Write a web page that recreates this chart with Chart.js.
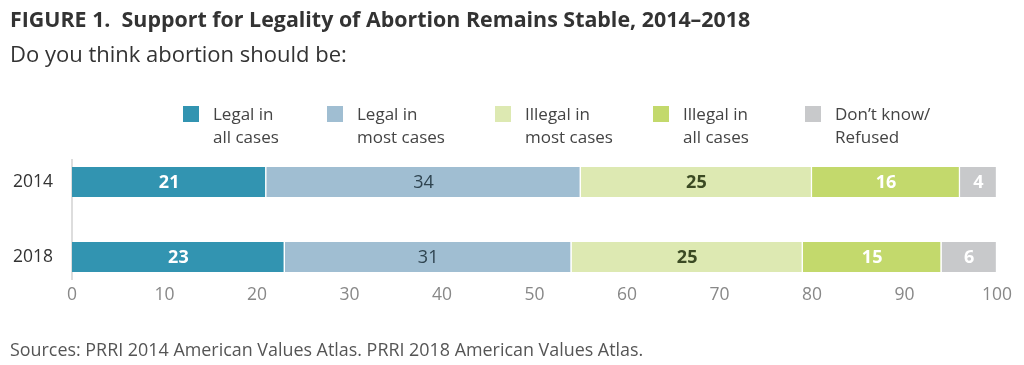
<!DOCTYPE html>
<html lang="en">
<head>
<meta charset="UTF-8">
<title>Support for Legality of Abortion Remains Stable, 2014–2018</title>
<script src="https://cdn.jsdelivr.net/npm/chart.js"></script>
<style>
  html, body { margin: 0; padding: 0; background: #fff; }
  body { width: 1024px; height: 365px; position: relative; overflow: hidden; font-family: "Open Sans", sans-serif; }
  #chartBox { position: absolute; left: 0; top: 0; width: 1024px; height: 365px; }
  .title { position: absolute; left: 10px; top: 4px; font-size: 21.4px; font-weight: bold; color: #333; white-space: pre; }
  .subtitle { position: absolute; left: 10px; top: 38px; font-size: 22px; color: #333; }
  .legend-item { position: absolute; top: 102px; font-size: 17px; line-height: 23px; color: #444; }
  .legend-item .sw { position: absolute; left: 0; top: 4px; width: 16px; height: 16px; }
  .legend-item .txt { position: absolute; left: 30px; top: 0; white-space: nowrap; }
  .source { position: absolute; left: 10px; top: 337px; font-size: 17.9px; color: #555; white-space: nowrap; }
</style>
</head>
<body>
<div id="chartBox"><canvas id="abortionChart"></canvas></div>
<div class="title">FIGURE 1.  Support for Legality of Abortion Remains Stable, 2014–2018</div>
<div class="subtitle">Do you think abortion should be:</div>
<div id="legend"></div>
<div class="source">Sources: PRRI 2014 American Values Atlas. PRRI 2018 American Values Atlas.</div>

<script>
// data
const years = ["2014", "2018"];
const seriesNames = [
    ["Legal in", "all cases"],
    ["Legal in", "most cases"],
    ["Illegal in", "most cases"],
    ["Illegal in", "all cases"],
    ["Don’t know/", "Refused"]
];
const legalAll = [21, 23];
const legalMost = [34, 31];
const illegalMost = [25, 25];
const illegalAll = [16, 15];
const dontKnow = [4, 6];
const xTicks = [0, 10, 20, 30, 40, 50, 60, 70, 80, 90, 100];

const colors = ["#3294b1", "#a0bed2", "#dde9b2", "#c3d96c", "#c8c9cb"];
const labelColors = ["#ffffff", "#2f4450", "#3b4a23", "#ffffff", "#ffffff"];
const labelWeights = ["bold", "normal", "bold", "bold", "bold"];
const legendX = [183, 327, 495, 653, 805];

// html legend (two-line labels)
const legend = document.getElementById("legend");
seriesNames.forEach((name, i) => {
    const item = document.createElement("div");
    item.className = "legend-item";
    item.style.left = legendX[i] + "px";
    item.innerHTML = '<div class="sw" style="background:' + colors[i] + '"></div>' +
        '<div class="txt">' + name.join("<br>") + '</div>';
    legend.appendChild(item);
});

// value labels in the middle of each segment
const valueLabels = {
    id: "valueLabels",
    afterDatasetsDraw(chart) {
        const ctx = chart.ctx;
        ctx.save();
        ctx.textAlign = "center";
        ctx.textBaseline = "middle";
        chart.data.datasets.forEach((ds, i) => {
            const meta = chart.getDatasetMeta(i);
            ctx.fillStyle = labelColors[i];
            ctx.font = labelWeights[i] + " 18px 'Open Sans'";
            meta.data.forEach((bar, j) => {
                ctx.fillText(ds.data[j], (bar.x + bar.base) / 2, bar.y + 1);
            });
        });
        ctx.restore();
    }
};

const allSeries = [legalAll, legalMost, illegalMost, illegalAll, dontKnow];
const yearNums = years.map(Number);

new Chart(document.getElementById("abortionChart"), {
    type: "bar",
    data: {
        labels: years,
        datasets: allSeries.map((vals, i) => ({
            label: seriesNames[i].join(" "),
            data: vals,
            backgroundColor: colors[i],
            borderColor: "#ffffff",
            borderWidth: { left: 0, right: 1.5, top: 0, bottom: 0 },
            borderSkipped: false,
            barThickness: 30
        }))
    },
    options: {
        indexAxis: "y",
        responsive: true,
        maintainAspectRatio: false,
        animation: false,
        layout: { padding: { top: 159.5, right: 27, left: 0, bottom: 0 } },
        plugins: {
            legend: { display: false },
            tooltip: { enabled: false }
        },
        scales: {
            x: {
                stacked: true,
                min: 0,
                max: 100,
                afterBuildTicks(scale) {
                    scale.ticks = xTicks.map(v => ({ value: v }));
                },
                afterFit(scale) { scale.height = 85.5; },
                grid: { display: false, drawTicks: false },
                border: { display: false },
                ticks: {
                    padding: 5,
                    color: "#888888",
                    font: { family: "Open Sans", size: 17.5 },
                    maxRotation: 0
                }
            },
            y: {
                // years on a numeric axis so the space above/below the bars can be set
                type: "linear",
                stacked: true,
                reverse: true,
                offset: false,
                min: yearNums[0] - 1.2,
                max: yearNums[yearNums.length - 1] + 1.2,
                afterBuildTicks(scale) {
                    scale.ticks = yearNums.map(v => ({ value: v }));
                },
                afterFit(scale) { scale.width = 72; },
                grid: { display: false, drawTicks: false, offset: false },
                border: { display: true, color: "#dddddd", width: 2 },
                ticks: {
                    padding: 19,
                    color: "#333333",
                    font: { family: "Open Sans", size: 17.5 },
                    callback: v => String(v)
                }
            }
        }
    },
    plugins: [valueLabels]
});
</script>
</body>
</html>
